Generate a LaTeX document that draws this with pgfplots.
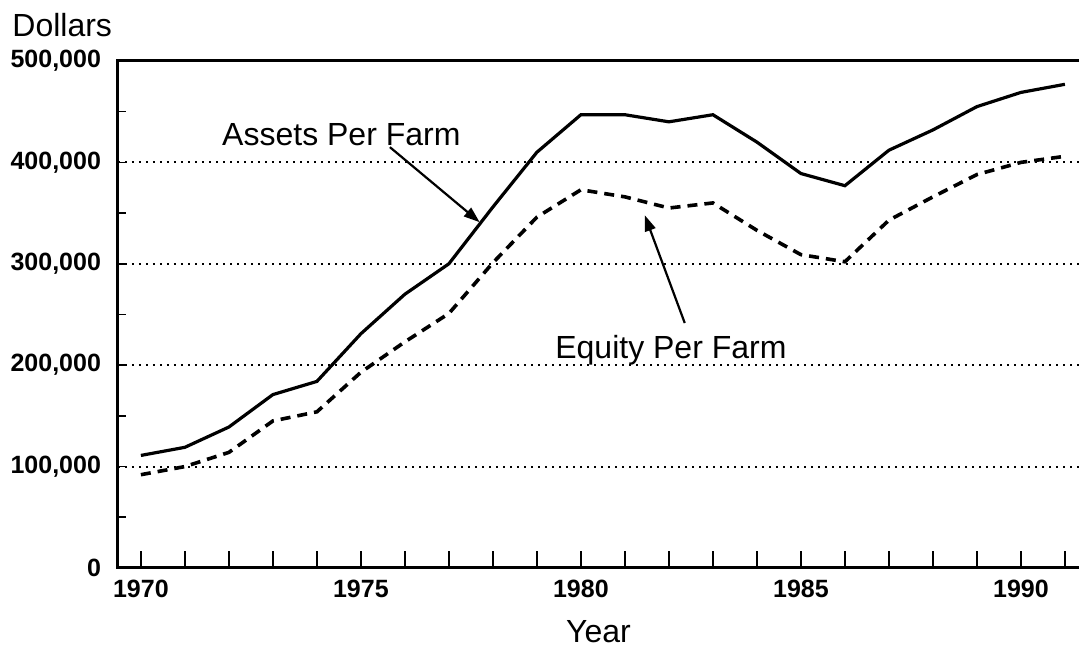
\documentclass[border=0pt]{standalone}
\usepackage{fontspec}
\setmainfont{Liberation Sans}
\usepackage{pgfplots}
\usepackage{pgfplotstable}
\pgfplotsset{compat=1.18}
\usetikzlibrary{arrows.meta}

\pgfplotstableread{
year assets equity
1970 111000 92000
1971 119000 100000
1972 139000 114000
1973 171000 145000
1974 184000 154000
1975 231000 193000
1976 270000 223000
1977 300000 251000
1978 356000 301000
1979 410000 346000
1980 447000 373000
1981 447000 366000
1982 440000 355000
1983 447000 360000
1984 420000 333000
1985 389000 309000
1986 377000 302000
1987 412000 343000
1988 432000 366000
1989 455000 388000
1990 469000 400000
1991 477000 406000
}\farmdata

\begin{document}
\begin{tikzpicture}
\pgfplotsset{
  common/.style={
    scale only axis,
    width=480.5pt, height=253.5pt,
    at={(0,0)}, anchor=south west,
    xmin=1969.48, xmax=1991.32,
    ymin=0, ymax=500000,
    scaled x ticks=false, scaled y ticks=false,
    axis line style={draw=none},
    tick style={black, line width=0.8pt},
    tick align=inside,
    /pgf/number format/assume math mode=true,
    ticklabel style={font=\bfseries\fontsize{12.5}{15}\selectfont},
  }
}
\begin{axis}[
  common,
  name=main,
  axis x line*=bottom,
  axis y line*=left,
  xtick=\empty,
  ytick={0,100000,200000,300000,400000,500000},
  yticklabels={0,{100,000},{200,000},{300,000},{400,000},{500,000}},
  minor ytick={50000,150000,250000,350000,450000},
  major tick length=4pt,
  minor tick length=4pt,
  yticklabel style={xshift=-5pt},
  ymajorgrids,
  major grid style={black, line width=1pt, dash pattern=on 1pt off 2.5pt},
  xlabel={Year},
  xlabel style={at={(axis description cs:0.5,0)}, anchor=base, yshift=-37.5pt, font=\fontsize{16}{19}\selectfont},
  clip=false,
]
\addplot[black, line width=1.6pt] table[x=year, y=assets] {\farmdata};
\addplot[black, line width=1.8pt, dash pattern=on 5pt off 3.5pt] table[x=year, y=equity] {\farmdata};
\draw[line width=1.5pt] (rel axis cs:1,1) -- (rel axis cs:0,1) -- (rel axis cs:0,0) -- (rel axis cs:1,0);
\node[anchor=base west, font=\fontsize{16}{19}\selectfont, inner sep=0pt] at (axis cs:1971.84,417000) {Assets Per Farm};
\draw[line width=1.1pt, -{Triangle[length=8pt,width=5.5pt]}] (axis cs:1975.66,415000) -- (axis cs:1977.70,341000);
\node[anchor=base west, font=\fontsize{16}{19}\selectfont, inner sep=0pt] at (axis cs:1979.41,207000) {Equity Per Farm};
\draw[line width=1.1pt, -{Triangle[length=8pt,width=5.5pt]}] (axis cs:1982.36,241600) -- (axis cs:1981.45,348000);
\node[anchor=base west, font=\fontsize{16}{19}\selectfont, inner sep=0pt] at ([xshift=-53pt, yshift=12pt]rel axis cs:0,1) {Dollars};
\coordinate (BL) at (rel axis cs:0,0);
\coordinate (TR) at (rel axis cs:1,1);
\end{axis}
\begin{axis}[
  common,
  axis x line*=bottom,
  axis y line=none,
  ytick=\empty,
  xtick={1970,1975,1980,1985,1990},
  xticklabels={1970,1975,1980,1985,1990},
  minor xtick={1971,1972,1973,1974,1976,1977,1978,1979,1981,1982,1983,1984,1986,1987,1988,1989,1991},
  major tick length=8.5pt,
  minor tick length=8.5pt,
  xticklabel style={yshift=-2.5pt},
]
\end{axis}
\pgfresetboundingbox
\path[use as bounding box] ([shift={(-59pt,-40pt)}]BL) rectangle ([shift={(1pt,30.5pt)}]TR);
\end{tikzpicture}
\end{document}
